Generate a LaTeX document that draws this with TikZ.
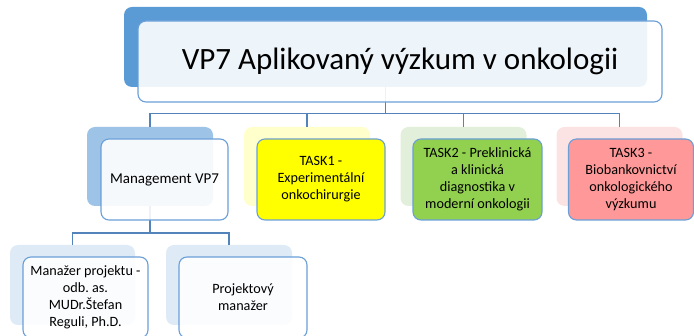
\documentclass[tikz,border=0pt]{standalone}
\usepackage{fontspec}
\setmainfont{Carlito}
\frenchspacing
\definecolor{topback}{HTML}{5B9BD5}
\definecolor{mgmtback}{HTML}{9DC3E6}
\definecolor{taskaback}{HTML}{FFFFCC}
\definecolor{taskbback}{HTML}{E2EFDA}
\definecolor{taskcback}{HTML}{FCE3E3}
\definecolor{lowback}{HTML}{DEEAF6}
\definecolor{frontline}{HTML}{6A9FD8}
\definecolor{connline}{HTML}{5283BB}
\definecolor{taskafill}{HTML}{FFFF00}
\definecolor{taskbfill}{HTML}{92D050}
\definecolor{taskcfill}{HTML}{FF9898}
\tikzset{
  backbox/.style={rounded corners=8pt, draw=none, inner sep=0pt, minimum width=#1},
  frontbox/.style={rounded corners=8pt, draw=frontline, line width=1.1pt, inner sep=0pt,
     fill=white, fill opacity=0.9, text opacity=1, align=center},
  conn/.style={draw=connline, line width=1.5pt},
  smalltext/.style={font=\fontsize{14.2}{17}\selectfont},
}
\begin{document}
\begin{tikzpicture}[x=1pt,y=-1pt]
\useasboundingbox (0,0) rectangle (694,336);
% back boxes
\node[backbox=523pt, minimum height=80pt, fill=topback] (topb) at (385.5,47) {};
\node[backbox=126pt, minimum height=79pt, fill=mgmtback] (mgmtb) at (150,166.5) {};
\node[backbox=126pt, minimum height=79pt, fill=taskaback] (taskab) at (307,166.5) {};
\node[backbox=126pt, minimum height=79pt, fill=taskbback] (taskbb) at (463.5,166.5) {};
\node[backbox=126pt, minimum height=79pt, fill=taskcback] (taskcb) at (619.5,166.5) {};
\node[backbox=125pt, minimum height=80pt, fill=lowback] (lowab) at (72.5,285) {};
\node[backbox=126pt, minimum height=80pt, fill=lowback] (lowbb) at (229,285) {};
% connectors
\coordinate (hone) at (0,113.5);
\coordinate (htwo) at (0,233);
\draw[conn] (topb.south) -- (topb.south |- hone);
\draw[conn] (mgmtb.north) -- (mgmtb.north |- hone) -- (taskcb.north |- hone) -- (taskcb.north);
\draw[conn] (taskab.north) -- (taskab.north |- hone);
\draw[conn] (taskbb.north) -- (taskbb.north |- hone);
\draw[conn] (mgmtb.south) -- (mgmtb.south |- htwo);
\draw[conn] (lowab.north) -- (lowab.north |- htwo) -- (lowbb.north |- htwo) -- (lowbb.north);
% front boxes
\node[frontbox, minimum width=524pt, minimum height=81pt, font=\fontsize{31}{36}\selectfont] (topf) at (400,61.5) {VP7 Aplikovaný výzkum v onkologii};
\node[frontbox, minimum width=127pt, minimum height=81pt, font=\fontsize{15}{18}\selectfont] (mgmtf) at (164.5,179.5) {Management VP7};
\node[frontbox, smalltext, minimum width=128pt, minimum height=81pt, fill=taskafill, fill opacity=1] (taskaf) at (321,179.5) {TASK1 -\\Experimentální\\onkochirurgie};
\node[frontbox, smalltext, minimum width=129pt, minimum height=81pt, fill=taskbfill, fill opacity=1] (taskbf) at (477.5,179.5) {TASK2 - Preklinická\\a klinická\\diagnostika v\\moderní onkologii};
\node[frontbox, smalltext, minimum width=125pt, minimum height=81pt, fill=taskcfill, fill opacity=1] (taskcf) at (631,179.5) {TASK3 -\\Biobankovnictví\\onkologického\\výzkumu};
\node[frontbox, smalltext, minimum width=125pt, minimum height=81pt] (lowaf) at (85.5,297.5) {Manažer projektu -\\odb. as.\\MUDr.Štefan\\Reguli, Ph.D.};
\node[frontbox, smalltext, minimum width=128pt, minimum height=81pt] (lowbf) at (243,297.5) {Projektový\\manažer};
\end{tikzpicture}
\end{document}
